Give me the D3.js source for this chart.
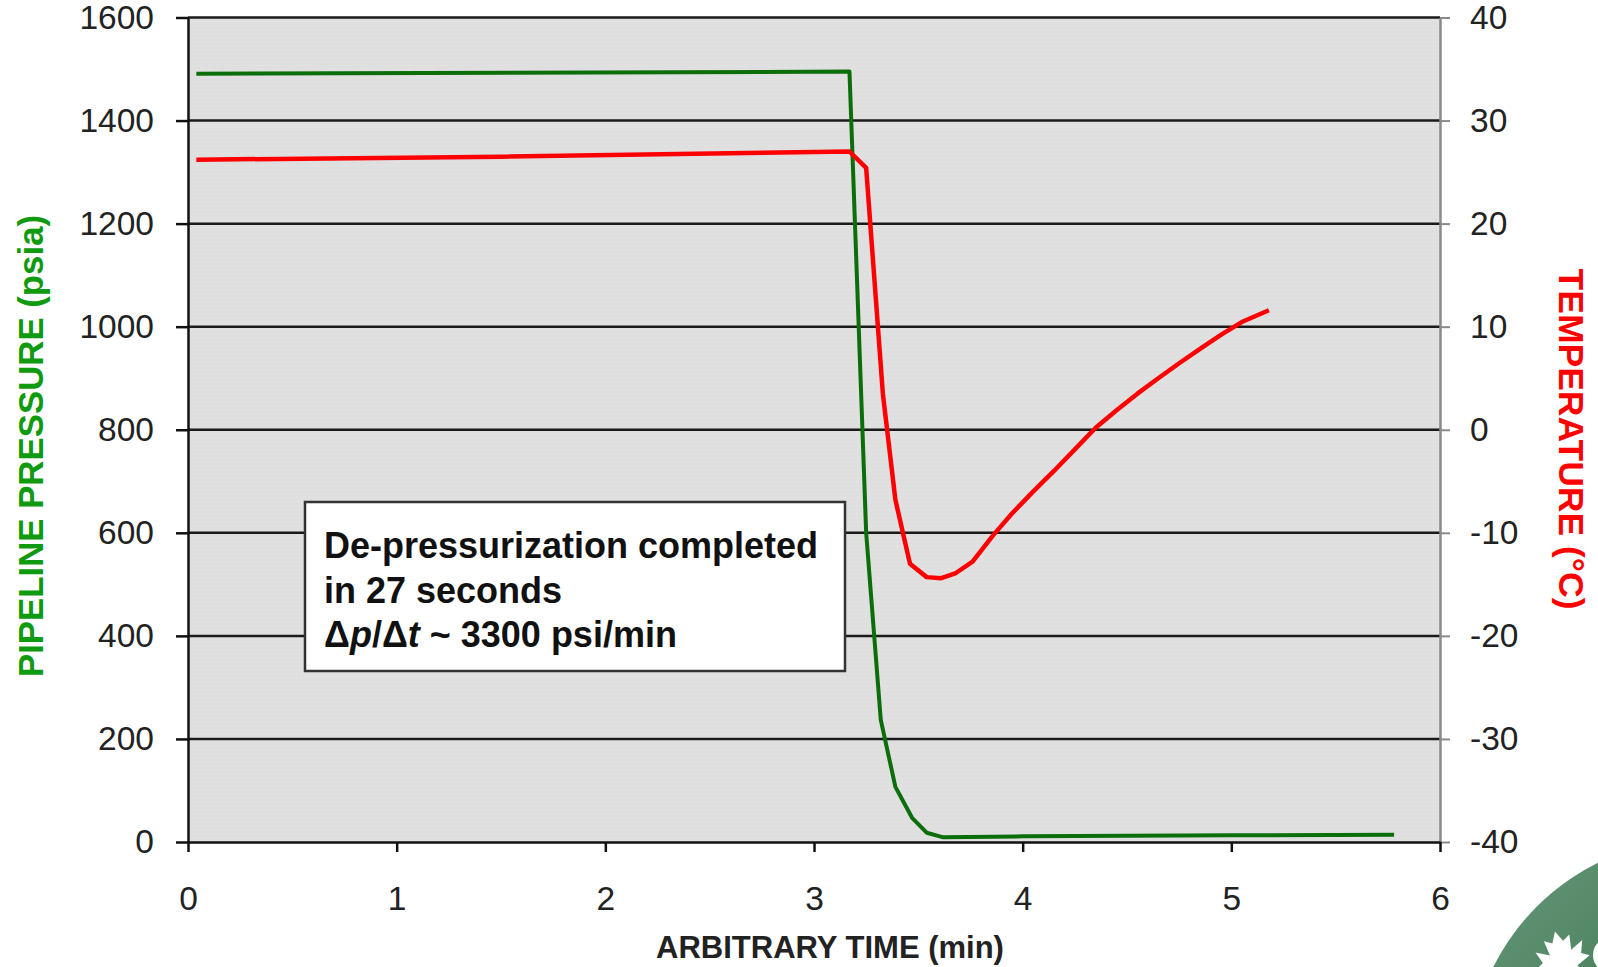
<!DOCTYPE html>
<html>
<head>
<meta charset="utf-8">
<script src="https://cdn.jsdelivr.net/npm/d3@7"></script>
<style>
  html, body { margin: 0; padding: 0; background: #fff; }
  svg { display: block; font-family: "Liberation Sans", Arial, sans-serif; }
</style>
</head>
<body>
<div id="chart"></div>
<script>
// Pipeline de-pressurization chart

// pressure series (psia) vs time (min)
const pressureTime = [0.04, 2.75, 3.17, 3.25, 3.32, 3.39, 3.47, 3.54, 3.62, 4.0, 5.0, 5.78];
const pressure = [1491, 1494, 1495, 600, 237, 107, 47, 18, 9, 11, 13, 14];

// temperature series (°C) vs time (min)
const tempTime = [0.04, 1.5, 3.17, 3.25, 3.33, 3.39, 3.46, 3.54, 3.61, 3.68, 3.76, 3.86,
    3.95, 4.05, 4.15, 4.25, 4.35, 4.45, 4.55, 4.65, 4.75, 4.85, 4.95, 5.05, 5.18];
const temperature = [26.2, 26.5, 27.0, 25.4, 3.5, -6.8, -13.0, -14.3, -14.4, -13.9, -12.8, -10.2,
    -8.1, -6.0, -4.0, -1.9, 0.2, 1.9, 3.5, 5.0, 6.45, 7.85, 9.2, 10.45, 11.6];

// axis ticks
const xTicks = [0, 1, 2, 3, 4, 5, 6];
const pressureTicks = [0, 200, 400, 600, 800, 1000, 1200, 1400, 1600];
const tempTicks = [-40, -30, -20, -10, 0, 10, 20, 30, 40];

const noteLines = ['De-pressurization completed', 'in 27 seconds'];

const width = 1598, height = 967;
const plotL = 188, plotR = 1440, plotT = 17.5, plotB = 842;

const svg = d3.select('#chart').append('svg')
    .attr('width', width)
    .attr('height', height);

const x = d3.scaleLinear().domain([0, 6]).range([plotL, plotR]);
const yP = d3.scaleLinear().domain([0, 1600]).range([plotB, plotT]);
const yT = d3.scaleLinear().domain([-40, 40]).range([plotB, plotT]);

// dotted gray plot background
const defs = svg.append('defs');
const pat = defs.append('pattern')
    .attr('id', 'dots')
    .attr('width', 4).attr('height', 4)
    .attr('patternUnits', 'userSpaceOnUse');
pat.append('rect').attr('width', 4).attr('height', 4).attr('fill', '#dfdfdf');
pat.append('rect').attr('x', 1).attr('y', 1).attr('width', 1).attr('height', 1).attr('fill', '#e7e7e7');

svg.append('rect')
    .attr('x', plotL).attr('y', plotT)
    .attr('width', plotR - plotL).attr('height', plotB - plotT)
    .attr('fill', 'url(#dots)');

// corner logo
const grad = defs.append('linearGradient')
    .attr('id', 'logoGrad')
    .attr('x1', '0%').attr('y1', '0%').attr('x2', '100%').attr('y2', '100%');
grad.append('stop').attr('offset', '0%').attr('stop-color', '#6a9a7c');
grad.append('stop').attr('offset', '50%').attr('stop-color', '#3b7550');
grad.append('stop').attr('offset', '100%').attr('stop-color', '#2a6140');

svg.append('circle')
    .attr('cx', 1700).attr('cy', 1070).attr('r', 231)
    .attr('fill', 'url(#logoGrad)');

const leaf = [[0,-25],[5,-15],[12,-19],[10,-5],[22,-11],[18,0],[25,4],[12,10],[14,17],[3,13],[2,26],[-2,26],[-3,13],[-14,17],[-12,10],[-25,4],[-18,0],[-22,-11],[-10,-5],[-12,-19],[-5,-15]];
svg.append('path')
    .attr('d', d3.line()(leaf) + 'Z')
    .attr('transform', 'translate(1562,958) rotate(-15) scale(1.1)')
    .attr('fill', '#fff');
// sliver of the logo lettering at the edge
svg.append('path')
    .attr('d', d3.arc()({innerRadius: 10, outerRadius: 17, startAngle: -Math.PI, startAngle: Math.PI * 1.15, endAngle: Math.PI * 1.85}))
    .attr('transform', 'translate(1610,955)')
    .attr('fill', '#fff');

// horizontal gridlines
svg.append('g')
    .selectAll('line')
    .data(pressureTicks.filter(d => d > 0))
    .join('line')
    .attr('x1', plotL).attr('x2', plotR)
    .attr('y1', d => yP(d)).attr('y2', d => yP(d))
    .attr('stroke', '#1a1a1a')
    .attr('stroke-width', 2.5);

// annotation box
const box = svg.append('g');
box.append('rect')
    .attr('x', 305).attr('y', 502)
    .attr('width', 540).attr('height', 169)
    .attr('fill', '#fff')
    .attr('stroke', '#333')
    .attr('stroke-width', 2.5);

const note = box.append('text')
    .attr('font-size', 36)
    .attr('font-weight', 'bold')
    .attr('fill', '#111');
noteLines.forEach((t, i) => {
    note.append('tspan').attr('x', 324).attr('y', 558 + i * 44.5).text(t);
});
const last = box.append('text')
    .attr('x', 324).attr('y', 647)
    .attr('font-size', 36)
    .attr('font-weight', 'bold')
    .attr('fill', '#111');
last.append('tspan').text('\u0394');
last.append('tspan').attr('font-style', 'italic').text('p');
last.append('tspan').text('/\u0394');
last.append('tspan').attr('font-style', 'italic').text('t');
last.append('tspan').text(' ~ 3300 psi/min');

// series lines
const pressurePts = pressureTime.map((t, i) => [t, pressure[i]]);
const tempPts = tempTime.map((t, i) => [t, temperature[i]]);

svg.append('path')
    .datum(pressurePts)
    .attr('fill', 'none')
    .attr('stroke', '#0b6e0b')
    .attr('stroke-width', 4)
    .attr('stroke-linejoin', 'round')
    .attr('d', d3.line().x(d => x(d[0])).y(d => yP(d[1])));

svg.append('path')
    .datum(tempPts)
    .attr('fill', 'none')
    .attr('stroke', '#ff0000')
    .attr('stroke-width', 4.5)
    .attr('stroke-linejoin', 'round')
    .attr('d', d3.line().x(d => x(d[0])).y(d => yT(d[1])));

// axes
const leftAxis = svg.append('g')
    .attr('transform', `translate(${plotL},0)`)
    .call(d3.axisLeft(yP).tickValues(pressureTicks).tickFormat(d3.format('d'))
        .tickSizeInner(12).tickSizeOuter(0).tickPadding(22));

const rightAxis = svg.append('g')
    .attr('transform', `translate(${plotR},0)`)
    .call(d3.axisRight(yT).tickValues(tempTicks).tickFormat(d => d < 0 ? '-' + Math.abs(d) : d)
        .tickSizeInner(10).tickSizeOuter(0).tickPadding(20));

const bottomAxis = svg.append('g')
    .attr('transform', `translate(0,${plotB})`)
    .call(d3.axisBottom(x).tickValues(xTicks).tickFormat(d3.format('d'))
        .tickSizeInner(10).tickSizeOuter(0).tickPadding(34));

[leftAxis, rightAxis, bottomAxis].forEach(a => {
    a.selectAll('text')
        .attr('font-size', 33.5)
        .attr('font-family', '"Liberation Sans", Arial, sans-serif')
        .attr('fill', '#222');
});
leftAxis.select('.domain').attr('stroke', '#111').attr('stroke-width', 2.5);
leftAxis.selectAll('.tick line').attr('stroke', '#111').attr('stroke-width', 2.5);
bottomAxis.select('.domain').attr('stroke', '#111').attr('stroke-width', 2.5);
bottomAxis.selectAll('.tick line').attr('stroke', '#111').attr('stroke-width', 2.5);
rightAxis.select('.domain').attr('stroke', '#8a8a8a').attr('stroke-width', 2.5);
rightAxis.selectAll('.tick line').attr('stroke', '#8a8a8a').attr('stroke-width', 2);

// axis titles
svg.append('text')
    .attr('transform', 'translate(30,446) rotate(-90)')
    .attr('text-anchor', 'middle')
    .attr('dominant-baseline', 'central')
    .attr('font-size', 34.8)
    .attr('font-weight', 'bold')
    .attr('fill', '#109a10')
    .text('PIPELINE PRESSURE (psia)');

svg.append('text')
    .attr('transform', 'translate(1571,439) rotate(90)')
    .attr('text-anchor', 'middle')
    .attr('dominant-baseline', 'central')
    .attr('font-size', 35.5)
    .attr('font-weight', 'bold')
    .attr('fill', '#ff0000')
    .text('TEMPERATURE (\u00B0C)');

svg.append('text')
    .attr('x', 830).attr('y', 958)
    .attr('text-anchor', 'middle')
    .attr('font-size', 31)
    .attr('font-weight', 'bold')
    .attr('fill', '#222')
    .text('ARBITRARY TIME (min)');
</script>
</body>
</html>
